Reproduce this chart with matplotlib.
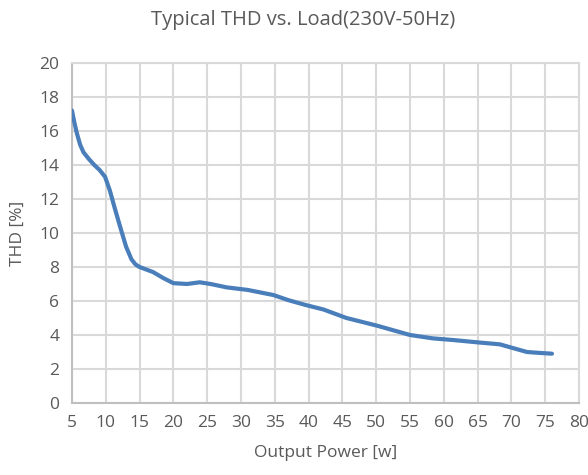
import matplotlib.pyplot as plt

plt.rcParams['font.family'] = ['Open Sans', 'DejaVu Sans']

# Output power [W] and THD [%]
power = [5, 5.3, 5.7, 6.2, 6.7, 7.5, 8.3, 9.1, 9.9, 10.6, 11.3, 12.1, 13.0, 13.8, 14.4, 15.0,
         16.0, 17.0, 18.5, 20.0, 22.0, 23.9, 25.5, 27.9, 31.0, 34.8, 37.0, 39.7,
         42.2, 45.6, 50.1, 55.0, 58.4, 61.5, 64.9, 68.3, 70.5, 72.3, 74.0, 76.0]
thd = [17.2, 16.6, 15.9, 15.2, 14.75, 14.35, 14.0, 13.7, 13.3, 12.5, 11.5, 10.4, 9.2, 8.45, 8.15, 8.0,
       7.85, 7.7, 7.35, 7.05, 7.0, 7.1, 7.0, 6.8, 6.65, 6.35, 6.05, 5.75,
       5.5, 5.0, 4.55, 4.0, 3.8, 3.7, 3.57, 3.45, 3.2, 3.0, 2.95, 2.9]

xticks = list(range(5, 81, 5))
yticks = list(range(0, 21, 2))

fig = plt.figure(figsize=(5.88, 4.75), dpi=100)
ax = fig.add_axes([0.1224, 0.1516, 0.8623, 0.7158])

ax.plot(power, thd, color='#4a7ebb', linewidth=3, solid_capstyle='round',
        solid_joinstyle='round', zorder=3)

ax.set_xlim(5, 80)
ax.set_ylim(0, 20)
ax.set_xticks(xticks)
ax.set_yticks(yticks)
ax.grid(True, color='#d9d9d9', linewidth=1.5)
ax.tick_params(length=0, labelsize=12.5, labelcolor='#595959', pad=9)
for side, sp in ax.spines.items():
    if side in ('left', 'bottom'):
        sp.set_color('#bfbfbf')
    else:
        sp.set_color('#d9d9d9')
    sp.set_linewidth(1.5)

ax.set_xlabel('Output Power [w]', fontsize=12.5, color='#595959', labelpad=10)
ax.set_ylabel('THD [%]', fontsize=12.5, color='#595959', labelpad=10)
fig.suptitle('Typical THD vs. Load(230V-50Hz)', x=0.515, y=0.98, fontsize=14.5, color='#595959')

fig.savefig('out.png', dpi=100)
